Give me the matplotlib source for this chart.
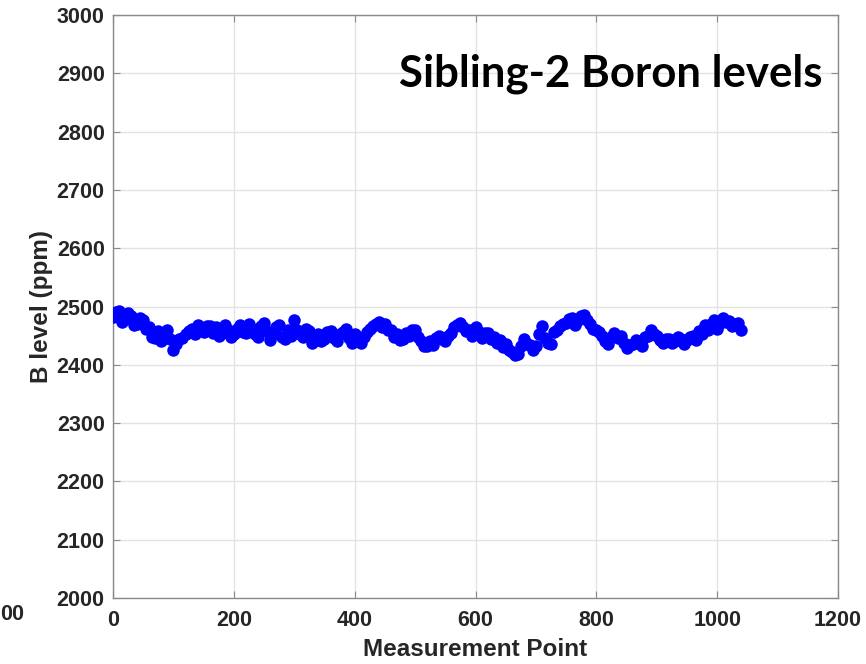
import numpy as np
import matplotlib.pyplot as plt

# ── data ──
meas_point = np.arange(0, 1041, 5)
b_level = [
    2482, 2490, 2492, 2474, 2478, 2488, 2484, 2468, 2470, 2480,
    2476, 2462, 2464, 2448, 2446, 2458, 2440, 2452, 2460, 2444,
    2426, 2436, 2444, 2446, 2452, 2458, 2462, 2452, 2468, 2460,
    2456, 2466, 2466, 2454, 2464, 2450, 2455, 2468, 2460, 2448,
    2452, 2462, 2468, 2456, 2454, 2470, 2462, 2452, 2448, 2466,
    2472, 2458, 2443, 2452, 2464, 2468, 2448, 2444, 2460, 2450,
    2477, 2460, 2453, 2448, 2462, 2458, 2438, 2448, 2452, 2440,
    2445, 2456, 2458, 2446, 2440, 2452, 2457, 2462, 2446, 2438,
    2452, 2444, 2438, 2448, 2457, 2462, 2467, 2470, 2474, 2464,
    2470, 2460, 2460, 2448, 2452, 2442, 2445, 2454, 2450, 2460,
    2460, 2448, 2440, 2432, 2432, 2440, 2434, 2446, 2450, 2444,
    2440, 2450, 2455, 2464, 2468, 2472, 2465, 2458, 2460, 2450,
    2464, 2456, 2446, 2454, 2455, 2444, 2447, 2438, 2442, 2430,
    2436, 2426, 2422, 2416, 2418, 2432, 2444, 2436, 2434, 2426,
    2432, 2452, 2466, 2446, 2438, 2436, 2457, 2460, 2467, 2470,
    2472, 2478, 2480, 2468, 2476, 2484, 2486, 2476, 2470, 2462,
    2460, 2457, 2450, 2440, 2436, 2448, 2455, 2446, 2450, 2438,
    2428, 2434, 2436, 2442, 2440, 2432, 2447, 2450, 2460, 2453,
    2450, 2442, 2438, 2444, 2445, 2438, 2440, 2448, 2445, 2436,
    2442, 2448, 2450, 2442, 2458, 2452, 2468, 2460, 2470, 2476,
    2462, 2472, 2480, 2474, 2475, 2466, 2470, 2472, 2460,
]
x_ticks = [0, 200, 400, 600, 800, 1000, 1200]
y_ticks = list(range(2000, 3001, 100))
title_text = 'Sibling-2 Boron levels'

plt.rcParams['font.family'] = ['Liberation Sans', 'DejaVu Sans']
plt.rcParams['font.weight'] = 'bold'

fig = plt.figure(figsize=(8.66, 6.64), dpi=100)
ax = fig.add_axes([0.1305, 0.0994, 0.8372, 0.878])

ax.plot(meas_point, b_level, 'o', color='#0000ff', markersize=9,
        markeredgewidth=0, zorder=3)

ax.set_xlim(0, 1200)
ax.set_ylim(2000, 3000)
ax.set_xticks(x_ticks)
ax.set_yticks(y_ticks)
ax.grid(True, color='#e3e3e3', linewidth=1.0, zorder=0)
ax.set_axisbelow(True)

for s in ax.spines.values():
    s.set_color('#8a8a8a')
    s.set_linewidth(1.0)
ax.tick_params(direction='in', length=5, color='#8a8a8a', top=True, right=True,
               labelsize=15.5, labelcolor='#262626')
ax.tick_params(axis='x', pad=9)
ax.tick_params(axis='y', pad=6)

ax.set_xlabel('Measurement Point', fontsize=17.5, fontweight='bold',
              color='#262626', labelpad=5)
ax.set_ylabel('B level (ppm)', fontsize=17.5, fontweight='bold',
              color='#262626', labelpad=3)

ax.text(0.978, 0.900, title_text, transform=ax.transAxes, ha='right',
        va='center', fontsize=31.5, fontweight='bold', family='Lato',
        color='black', zorder=5)

# partly visible tick label of a neighbouring chart at the left edge
fig.text(0.0, 1 - 614 / 664, '00', ha='left', va='center',
         fontsize=15.5, fontweight='bold', color='#262626')

plt.savefig('out.png', dpi=100)
